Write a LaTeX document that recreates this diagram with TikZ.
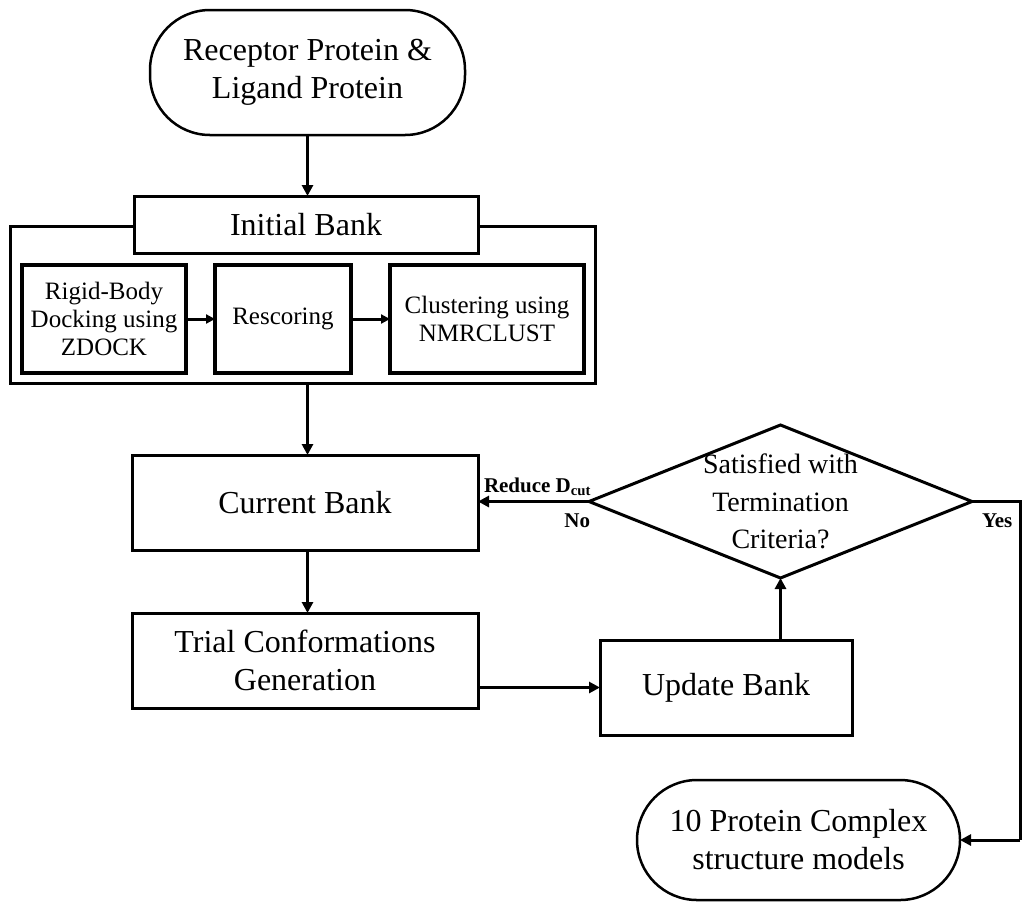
\documentclass[tikz,border=0pt]{standalone}
\usepackage{fontspec}
\setmainfont{Liberation Serif}
\usetikzlibrary{arrows.meta,shapes.geometric}
\begin{document}
\begin{tikzpicture}[x=1pt,y=-1pt,
  every node/.style={inner sep=0pt, outer sep=0pt, align=center},
  box/.style={draw, line width=3pt, fill=white, font=\fontsize{32}{38}\selectfont},
  smallbox/.style={draw, line width=3.5pt, fill=white, minimum width=#1, minimum height=108,
     font=\fontsize{25}{28}\selectfont},
  term/.style={draw, line width=2.5pt, rounded corners=60pt, font=\fontsize{32}{38}\selectfont},
  conn/.style={line width=3pt, -{Triangle[length=11pt,width=11pt]}},
  sconn/.style={line width=3pt, -{Triangle[length=9pt,width=9pt]}},
  lbl/.style={font=\fontsize{21}{23}\selectfont\bfseries}
]
\useasboundingbox (0,0) rectangle (1024,903);

\node[term, minimum width=315, minimum height=125] (start) at (307.5,72.5)
  {Receptor Protein \&\\Ligand Protein};

\node[draw, line width=3pt, minimum width=585, minimum height=157] (outer) at (302.5,304.5) {};
\node[box, minimum width=344, minimum height=57] (init) at (306,224.5) {Initial Bank};

\node[smallbox=164] (rigid) at (104,319) {Rigid-Body\\Docking using\\ZDOCK};
\node[smallbox=136] (resc) at (283,319) {Rescoring};
\node[smallbox=194] (clus) at (487,319) {Clustering using\\NMRCLUST};

\node[box, minimum width=346, minimum height=95] (cur) at (305,502.5) {Current Bank};
\node[box, minimum width=346, minimum height=95] (trial) at (305,660.5) {Trial Conformations\\Generation};
\node[box, minimum width=252, minimum height=95] (upd) at (726,687.5) {Update Bank};

\node[diamond, draw, line width=3pt, minimum width=383, minimum height=153] (dia) at (780.5,501.5) {};
\node[font=\fontsize{28}{37.5}\selectfont] (diatext) at (dia.center) {Satisfied with\\Termination\\Criteria?};

\node[term, minimum width=323, minimum height=120] (end) at (798.5,840)
  {10 Protein Complex\\structure models};

\coordinate (yr) at (1020,501.5);
\coordinate (yb) at (1020,840);

\draw[conn] (start.south) -- (init.north -| start.south);
\draw[sconn] (rigid.east) -- (resc.west);
\draw[sconn] (resc.east) -- (clus.west);
\draw[conn] (outer.south -| start.south) -- (cur.north -| start.south);
\draw[conn] (cur.south -| start.south) -- (trial.north -| start.south);
\draw[conn] (trial.east |- upd.west) -- (upd.west);
\draw[conn] (dia.south |- upd.north) -- (dia.south);
\draw[conn] (dia.west) -- (cur.east |- dia.west);
\draw[line width=3pt] (dia.east) -- (yr) -- (yb);
\draw[conn] (yb) -- (end.east);

\node[lbl, anchor=south east] (reduce) at ([xshift=2,yshift=6]dia.west) {Reduce D\textsubscript{cut}};
\node[lbl, anchor=north east] (no) at ([xshift=1,yshift=-12]dia.west) {No};
\node[lbl, anchor=north west] (yes) at ([xshift=10,yshift=-12]dia.east) {Yes};
\end{tikzpicture}
\end{document}
